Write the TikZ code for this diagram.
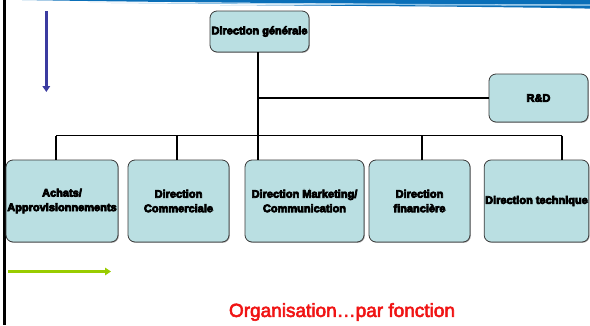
\documentclass[tikz,border=0pt]{standalone}
\usepackage{fontspec}
\setmainfont{Liberation Sans}
\newfontfamily\boxfont[BoldFeatures={FakeBold=6.5}]{Liberation Sans}
\newfontfamily\captionfont[FakeBold=3]{Liberation Sans}
\usetikzlibrary{arrows.meta,shadows}
\definecolor{boxcyan}{HTML}{BADFE2}
\definecolor{boxedge}{HTML}{3A3A3A}
\definecolor{bannerblue}{HTML}{0A6FB8}
\definecolor{bannerlight}{HTML}{8CC3E8}
\definecolor{downblue}{HTML}{3B3BA0}
\definecolor{limegreen}{HTML}{99CC00}
\definecolor{titlered}{HTML}{F01414}
\tikzset{
  orgbox/.style={draw=boxedge, fill=boxcyan, line width=0.8pt, rounded corners=7pt,
    align=center, inner sep=1pt, minimum height=82pt,
    font={\boxfont\bfseries\fontsize{11}{14.5}\selectfont},
    drop shadow={shadow xshift=0.8pt, shadow yshift=-0.8pt, fill=black, opacity=0.35}},
  link/.style={draw=black, line width=1.1pt},
}
\begin{document}
\begin{tikzpicture}[x=1pt, y=-1pt]
\useasboundingbox (0,0) rectangle (590,325);

% header swoosh
\fill[bannerblue] (22,0) -- (590,0) -- (590,4.6) .. controls (420,4.0) and (200,3.0) .. (22,0) -- cycle;
\fill[bannerlight] (90,2.8) .. controls (300,4.8) and (450,5.3) .. (590,5.8) -- (590,4.6) .. controls (420,4.0) and (200,3.0) .. (90,2.8) -- cycle;
\fill[bannerblue] (220,5.0) .. controls (400,6.2) and (500,6.8) .. (590,8.6) -- (590,5.8) .. controls (450,5.3) and (350,5.0) .. (220,5.0) -- cycle;

% left margin rule
\draw[line width=2.4pt] (4.3,0) -- (4.3,325);

% side arrows
\coordinate (bluetop) at (46.3,11);
\coordinate (bluebot) at (46.3,92);
\draw[downblue, line width=2.6pt, -{Triangle[length=6pt,width=7.5pt]}] (bluetop) -- (bluebot);
\coordinate (greenl) at (8,271.5);
\coordinate (greenr) at (111,271.5);
\draw[limegreen, line width=2.8pt, -{Triangle[length=6pt,width=7.5pt]}] (greenl) -- (greenr);

% boxes
\node[orgbox, minimum width=99pt, minimum height=41pt] (dg) at (259.5,31.5) {Direction générale};
\node[orgbox, minimum width=99pt, minimum height=48pt] (rd) at (538.5,98) {R\&D};
\node[orgbox, minimum width=112pt] (b1) at (62,201) {Achats/\\Approvisionnements};
\node[orgbox, minimum width=101pt] (b2) at (178.5,201) {Direction\\Commerciale};
\node[orgbox, minimum width=119pt] (b3) at (304.5,201) {Direction Marketing/\\Communication};
\node[orgbox, minimum width=101pt] (b4) at (419.5,201) {Direction\\financière};
\node[orgbox, minimum width=103pt] (b5) at (536.5,201) {Direction technique};

% bus junctions
\coordinate (j1) at (56,135.5);
\coordinate (j2) at (177,135.5);
\coordinate (j3) at (258,135.5);
\coordinate (j4) at (422,135.5);
\coordinate (j5) at (562,135.5);
\coordinate (rdj) at (258,98);

% connectors
\draw[link] (dg.south -| j3) -- (j3);
\draw[link] (rdj) -- (rd.west);
\draw[link] (j1) -- (j5);
\draw[link] (j1) -- (j1 |- b1.north);
\draw[link] (j2) -- (j2 |- b2.north);
\draw[link] (j3) -- (j3 |- b3.north);
\draw[link] (j4) -- (j4 |- b4.north);
\draw[link] (j5) -- (j5 |- b5.north);

% caption
\node[text=titlered, font=\captionfont\fontsize{19}{22}\selectfont, inner sep=0pt] (caption) at (342,312) {Organisation…par fonction};
\end{tikzpicture}
\end{document}
